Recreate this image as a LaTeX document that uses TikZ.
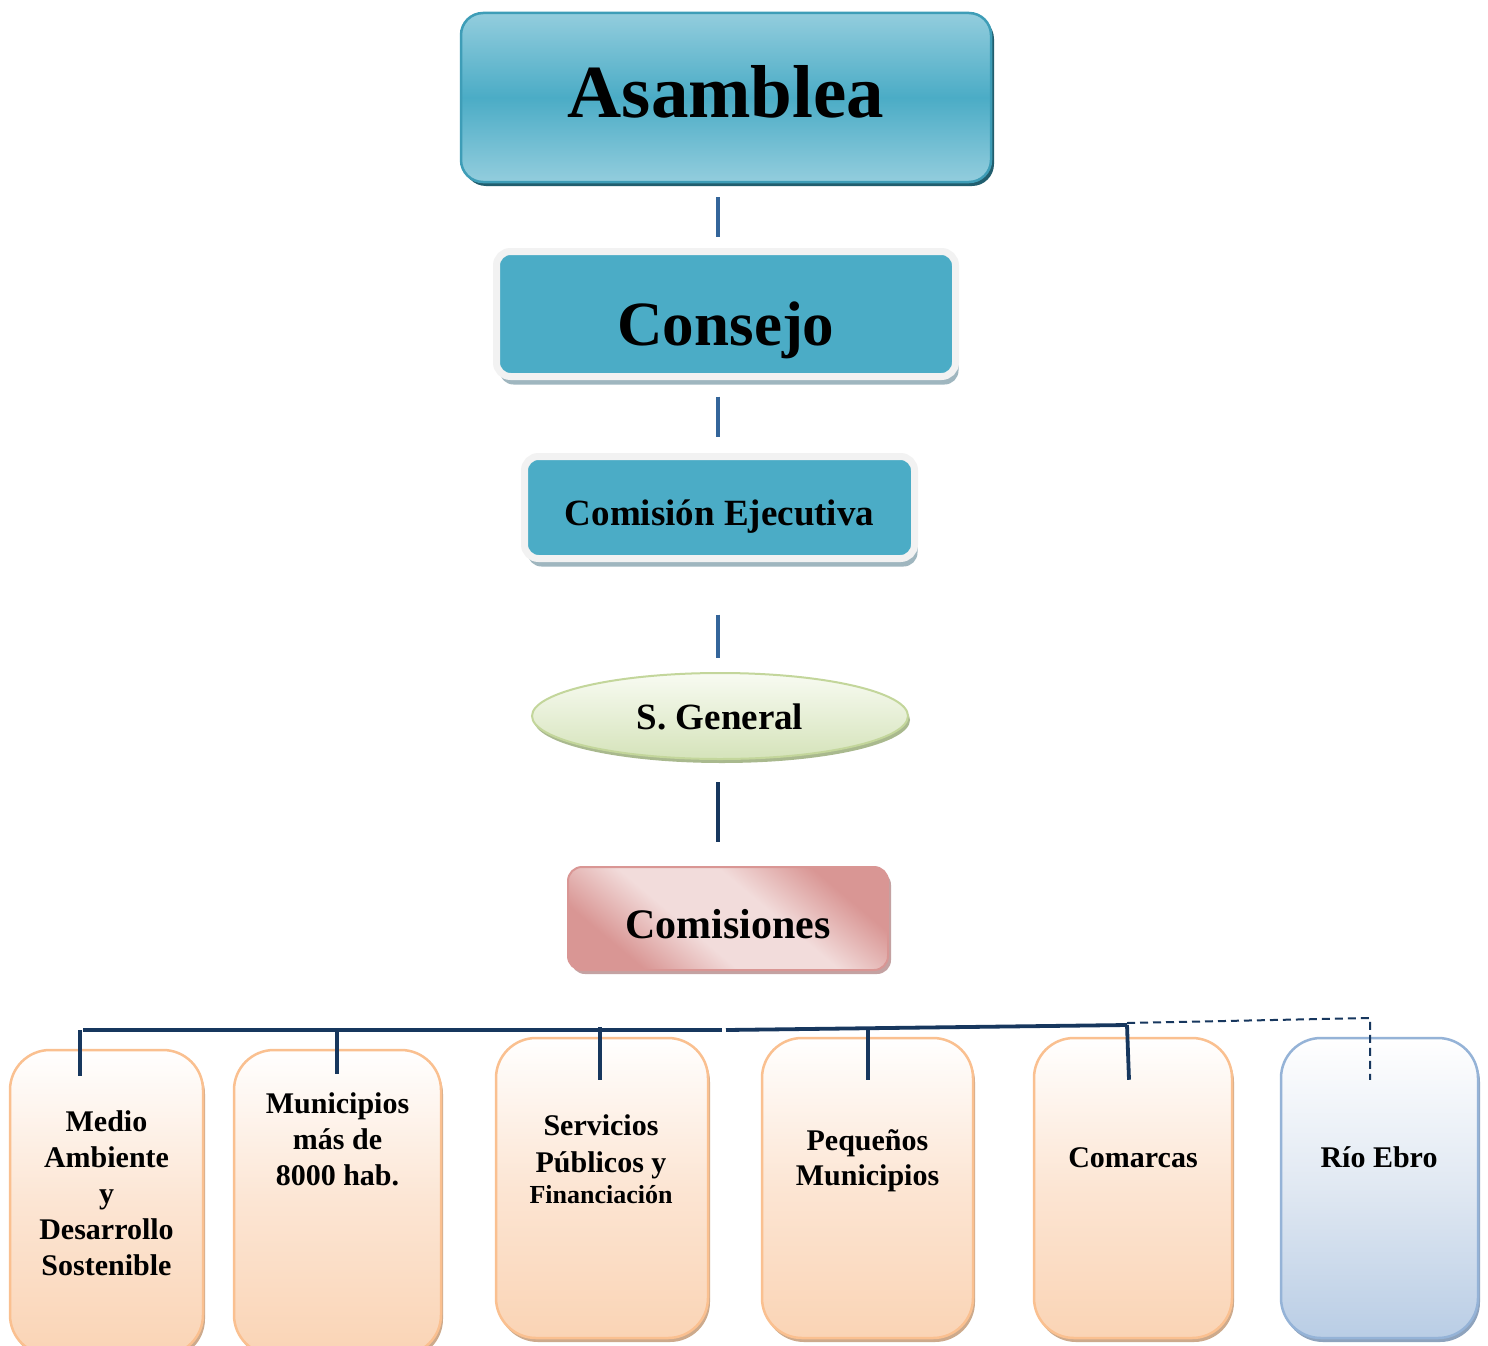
\documentclass[tikz,border=0pt]{standalone}
\usepackage{fontspec}
\setmainfont{Liberation Serif}
\usetikzlibrary{shadows,shapes.geometric}
\definecolor{cTeal}{HTML}{4BACC6}
\definecolor{cTealLt}{HTML}{93CDDD}
\definecolor{cTealBd}{HTML}{3E9DB7}
\definecolor{cTealSh}{HTML}{215E6E}
\definecolor{cFrame}{HTML}{F2F2F2}
\definecolor{cFrameSh}{HTML}{9FB6BF}
\definecolor{cLine}{HTML}{34659A}
\definecolor{cNavy}{HTML}{17375E}
\definecolor{cGrTop}{HTML}{F8FBF2}
\definecolor{cGrBot}{HTML}{D5E3BA}
\definecolor{cGrBd}{HTML}{C3D69B}
\definecolor{cGrSh}{HTML}{A9B98E}
\definecolor{cPkDk}{HTML}{D99694}
\definecolor{cPkLt}{HTML}{F2DCDB}
\definecolor{cPkSh}{HTML}{C4A2A2}
\definecolor{cOrBd}{HTML}{FAC090}
\definecolor{cOrMid}{HTML}{FCE5D3}
\definecolor{cOrBot}{HTML}{FAD4B5}
\definecolor{cOrSh}{HTML}{CDAA8C}
\definecolor{cBlBd}{HTML}{95B3D7}
\definecolor{cBlMid}{HTML}{E0E8F2}
\definecolor{cBlBot}{HTML}{B9CDE5}
\definecolor{cBlSh}{HTML}{8EA3BD}
\pgfdeclareverticalshading{pinkdiag}{100bp}{color(0bp)=(cPkDk); color(27bp)=(cPkDk); color(42bp)=(cPkLt); color(58bp)=(cPkLt); color(73bp)=(cPkDk); color(100bp)=(cPkDk)}
\begin{document}
\begin{tikzpicture}[x=1pt,y=-1pt,
  conn/.style={line width=3.4pt, draw=cLine},
  bus/.style={line width=3.8pt, draw=cNavy},
  tealframe/.style={draw=cFrame, line width=7pt, fill=cTeal, rounded corners=14pt,
    drop shadow={shadow xshift=3pt, shadow yshift=-8pt, fill=cFrameSh, opacity=1}},
  obox/.style={draw=cOrBd, line width=2.5pt, rounded corners=40pt,
    top color=white, bottom color=cOrBot, middle color=cOrMid,
    drop shadow={shadow xshift=2pt, shadow yshift=-4pt, fill=cOrSh, opacity=1}},
  bbox/.style={draw=cBlBd, line width=2.5pt, rounded corners=40pt,
    top color=white, bottom color=cBlBot, middle color=cBlMid,
    drop shadow={shadow xshift=2pt, shadow yshift=-4pt, fill=cBlSh, opacity=1}},
  lbl/.style={font=\bfseries\fontsize{30}{36}\selectfont, anchor=base, inner sep=0pt},
  lbls/.style={font=\bfseries\fontsize{26}{31}\selectfont, anchor=base, inner sep=0pt}
]
\clip (0,0) rectangle (1488,1346);
\fill[white] (0,0) rectangle (1488,1346);

% Asamblea
\node[draw=cTealBd, line width=2.5pt, rounded corners=22pt,
  top color=cTealLt, bottom color=cTealLt, middle color=cTeal,
  drop shadow={shadow xshift=3pt, shadow yshift=-4pt, fill=cTealSh, opacity=1},
  minimum width=530pt, minimum height=169pt, text height=39pt, text depth=0pt,
  font=\bfseries\fontsize{75}{80}\selectfont] (asam) at (726,97.5) {Asamblea};

% Consejo
\node[tealframe, minimum width=459pt, minimum height=125pt,
  text height=62pt, text depth=0pt,
  font=\bfseries\fontsize{63}{70}\selectfont] (cons) at (726,314) {Consejo};

% Comision Ejecutiva
\node[tealframe, minimum width=390pt, minimum height=102pt,
  text height=35pt, text depth=0pt,
  font=\bfseries\fontsize{37}{42}\selectfont] (ce) at (719.5,507.5) {Comisión Ejecutiva};

% S. General
\node[ellipse, draw=cGrBd, line width=2pt, top color=cGrTop, bottom color=cGrBot,
  drop shadow={shadow xshift=2pt, shadow yshift=-4pt, fill=cGrSh, opacity=1},
  minimum width=376pt, minimum height=86pt, inner sep=2pt,
  text height=26pt, text depth=0pt,
  font=\bfseries\fontsize{37}{42}\selectfont] (sg) at (720,716) {S. General};

% Comisiones
\node[draw=cPkDk, line width=2pt, rounded corners=14pt,
  shading=pinkdiag, shading angle=-40,
  drop shadow={shadow xshift=3pt, shadow yshift=-4pt, fill=cPkSh, opacity=1},
  minimum width=320pt, minimum height=103pt,
  text height=39pt, text depth=0pt,
  font=\bfseries\fontsize{42}{46}\selectfont] (com) at (728,918.5) {Comisiones};

% vertical connectors
\draw[conn] ([xshift=-8pt,yshift=-14pt]asam.south) -- ([xshift=-8pt,yshift=11.5pt]cons.north);
\draw[conn] ([xshift=-8pt,yshift=-16.5pt]cons.south) -- ([xshift=-1.5pt,yshift=16.5pt]ce.north);
\draw[conn] ([xshift=-1.5pt,yshift=-52.5pt]ce.south) -- ([xshift=-2pt,yshift=14pt]sg.north);
\draw[bus] ([xshift=-2pt,yshift=-22pt]sg.south) -- ([xshift=-10pt,yshift=24pt]com.north);

% bottom boxes
\node[obox, minimum width=193pt, minimum height=305pt] (m1) at (106.5,1202.5) {};
\node[obox, minimum width=207pt, minimum height=305pt] (m2) at (337.5,1202.5) {};
\node[obox, minimum width=212pt, minimum height=300pt] (m3) at (602,1188) {};
\node[obox, minimum width=211pt, minimum height=300pt] (m4) at (867.5,1188) {};
\node[obox, minimum width=198pt, minimum height=300pt] (m5) at (1133,1188) {};
\node[bbox, minimum width=197pt, minimum height=300pt] (m6) at (1379.5,1188) {};

% labels
\node[lbl] (t1a) at (106.5,1131) {Medio};
\node[lbl] (t1b) at (106.5,1167) {Ambiente};
\node[lbl] (t1c) at (106.5,1203) {y};
\node[lbl] (t1d) at (106.5,1239) {Desarrollo};
\node[lbl] (t1e) at (106.5,1275) {Sostenible};
\node[lbl] (t2a) at (337.5,1113) {Municipios};
\node[lbl] (t2b) at (337.5,1149) {más de};
\node[lbl] (t2c) at (337.5,1185) {8000 hab.};
\node[lbl] (t3a) at (601,1135) {Servicios};
\node[lbl] (t3b) at (601,1172) {Públicos y};
\node[lbls] (t3c) at (601,1203) {Financiación};
\node[lbl] (t4a) at (867.5,1150) {Pequeños};
\node[lbl] (t4b) at (867.5,1185) {Municipios};
\node[lbl] (t5a) at (1133,1167) {Comarcas};
\node[lbl] (t6a) at (1379,1167) {Río Ebro};

% bus
\coordinate (bL) at (83,1030);
\coordinate (bM1) at (722,1030);
\coordinate (bM2) at (726,1030);
\coordinate (bR) at (1127,1025);
\coordinate (d1) at (80,1030);
\coordinate (d2) at (337,1030);
\coordinate (d3) at (600,1027);
\coordinate (d4) at (868,1027);
\coordinate (dR) at (1127,1023);
\coordinate (dK) at (1370,1018);
\draw[bus] (bL) -- (bM1);
\draw[bus] (bM2) -- (bR);
\draw[bus] (d1) -- ([xshift=-26.5pt,yshift=-27pt]m1.north);
\draw[bus] (d2) -- ([xshift=-0.5pt,yshift=-25pt]m2.north);
\draw[bus] (d3) -- ([xshift=-2pt,yshift=-43pt]m3.north);
\draw[bus] (d4) -- ([xshift=0.5pt,yshift=-43pt]m4.north);
\draw[bus] (bR) -- ([xshift=-4pt,yshift=-43pt]m5.north);
\draw[draw=cNavy, line width=2pt, dash pattern=on 8pt off 5pt] (dR) -- (dK) -- ([xshift=-9.5pt,yshift=-43pt]m6.north);
\end{tikzpicture}
\end{document}
